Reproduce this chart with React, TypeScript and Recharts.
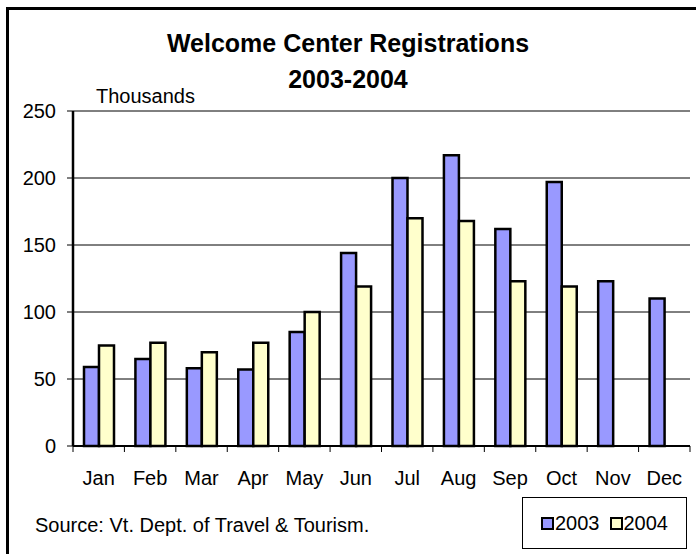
import React from 'react';
import { BarChart, Bar, XAxis, YAxis, CartesianGrid, Legend } from 'recharts';

const MONTHS = ['Jan', 'Feb', 'Mar', 'Apr', 'May', 'Jun', 'Jul', 'Aug', 'Sep', 'Oct', 'Nov', 'Dec'];
const REG_2003 = [59, 65, 58, 57, 85, 144, 200, 217, 162, 197, 123, 110];
const REG_2004: (number | null)[] = [75, 77, 70, 77, 100, 119, 170, 168, 123, 119, null, null];
const Y_TICKS = [0, 50, 100, 150, 200, 250];

const COLOR_2003 = '#9999ff';
const COLOR_2004 = '#ffffcc';
const FONT = 'Arial, "Liberation Sans", sans-serif';

const data = MONTHS.map((month, i) => ({
  month,
  y2003: REG_2003[i],
  y2004: REG_2004[i],
}));

function MonthTick(props: any) {
  const { x, y, payload, index } = props;
  const half = payload?.offset ?? 25.7;
  return (
    <g>
      <line x1={x - half} x2={x - half} y1={y} y2={y + 6} stroke="#000" />
      {index === MONTHS.length - 1 && (
        <line x1={x + half} x2={x + half} y1={y} y2={y + 6} stroke="#000" />
      )}
      <text x={x} y={y + 39} textAnchor="middle" fontSize={20} fill="#000" fontFamily={FONT}>
        {payload.value}
      </text>
    </g>
  );
}

function LegendBox({ payload }: any) {
  return (
    <div
      style={{
        border: '1px solid #000',
        background: '#fff',
        width: 163,
        height: 50,
        display: 'flex',
        alignItems: 'center',
        justifyContent: 'center',
        gap: 10,
        fontFamily: FONT,
        fontSize: 20,
        color: '#000',
      }}
    >
      {(payload ?? []).map((p: any) => (
        <span key={p.value} style={{ display: 'flex', alignItems: 'center' }}>
          <span
            style={{
              display: 'inline-block',
              width: 9,
              height: 9,
              background: p.color,
              border: '2px solid #000',
              marginRight: 1,
            }}
          />
          {p.value}
        </span>
      ))}
    </div>
  );
}

export default function App() {
  return (
    <div
      style={{
        position: 'absolute',
        left: 0,
        top: 0,
        width: 696,
        height: 554,
        overflow: 'hidden',
        background: '#fff',
        fontFamily: FONT,
      }}
    >
      <div
        style={{
          position: 'absolute',
          left: 6,
          top: 7,
          width: 720,
          height: 580,
          border: '3px solid #000',
        }}
      />
      <BarChart
        width={696}
        height={554}
        data={data}
        margin={{ top: 111, right: 6, bottom: 26, left: 0 }}
        barGap={0}
        style={{ position: 'absolute', left: 0, top: 0 }}
      >
        <CartesianGrid vertical={false} stroke="#000" strokeWidth={1} />
        <XAxis
          dataKey="month"
          height={30}
          tickLine={false}
          tickSize={0}
          tickMargin={0}
          interval={0}
          axisLine={{ stroke: '#000', strokeWidth: 2 }}
          tick={<MonthTick />}
        />
        <XAxis xAxisId="top" dataKey="month" orientation="top" height={0} tick={false} tickLine={false} axisLine={{ stroke: '#000', strokeWidth: 2.5 }} />
        <YAxis
          width={73}
          domain={[0, 250]}
          ticks={Y_TICKS}
          interval={0}
          tickSize={6}
          tickMargin={11}
          tickLine={{ stroke: '#000' }}
          axisLine={{ stroke: '#000', strokeWidth: 2.5 }}
          tick={{ fontSize: 20, fill: '#000', fontFamily: FONT }}
        />
        <YAxis yAxisId="right" orientation="right" width={0} domain={[0, 250]} tick={false} tickLine={false} axisLine={{ stroke: '#000', strokeWidth: 2.5 }} />
        <Legend
          content={<LegendBox />}
          wrapperStyle={{ position: 'absolute', left: 522, top: 497, width: 165, height: 52 }}
        />
        <Bar dataKey="y2003" name="2003" fill={COLOR_2003} stroke="#000" strokeWidth={2.5} barSize={15} isAnimationActive={false} />
        <Bar dataKey="y2004" name="2004" fill={COLOR_2004} stroke="#000" strokeWidth={2.5} barSize={15} isAnimationActive={false} />
      </BarChart>
      <svg width={696} height={554} style={{ position: 'absolute', left: 0, top: 0, pointerEvents: 'none' }}>
        <text x={348} y={52} textAnchor="middle" fontSize={25} fontWeight="bold" fontFamily={FONT}>
          Welcome Center Registrations
        </text>
        <text x={348} y={88} textAnchor="middle" fontSize={25} fontWeight="bold" fontFamily={FONT}>
          2003-2004
        </text>
        <text x={96} y={103} fontSize={20} fontFamily={FONT}>
          Thousands
        </text>
        <text x={35} y={532} fontSize={20} fontFamily={FONT}>
          Source: Vt. Dept. of Travel &amp; Tourism.
        </text>
      </svg>
    </div>
  );
}
